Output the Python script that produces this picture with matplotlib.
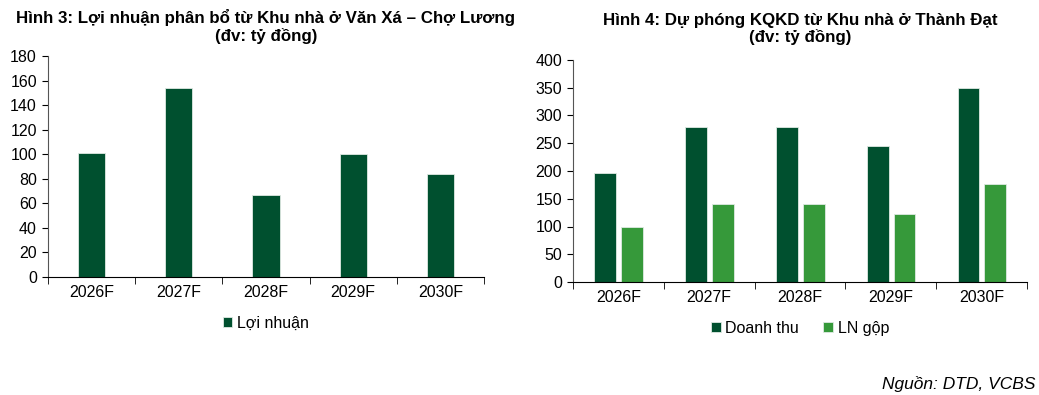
import numpy as np
import matplotlib.pyplot as plt

plt.rcParams['font.family'] = ['Liberation Sans', 'DejaVu Sans']

years = ['2026F', '2027F', '2028F', '2029F', '2030F']
loi_nhuan = [101, 154, 67, 100, 84]
doanh_thu = [197, 280, 280, 245, 350]
ln_gop = [100, 141, 141, 123, 177]

dark = '#00502f'
light = '#36993a'

W, H = 1039, 395
fig = plt.figure(figsize=(W / 100, H / 100), dpi=100)

def style_axes(ax, ymax, step):
    for s in ['top', 'right']:
        ax.spines[s].set_visible(False)
    ax.spines['left'].set_color('#555555')
    ax.spines['bottom'].set_color('black')
    ax.set_ylim(0, ymax)
    ax.set_yticks(np.arange(0, ymax + 1, step))
    ax.set_xlim(-0.5, len(years) - 0.5)
    ax.set_xticks(range(len(years)))
    ax.set_xticklabels(years)
    ax.set_xticks(np.arange(-0.5, len(years)), minor=True)
    ax.tick_params(axis='x', which='major', length=0, pad=6, labelsize=11.5)
    ax.tick_params(axis='x', which='minor', length=5, direction='out')
    ax.tick_params(axis='y', length=4, direction='out', labelsize=11.5, pad=4)

# Hình 3
ax1 = fig.add_axes([48 / W, (H - 277) / H, 436 / W, 221 / H])
x = np.arange(len(years))
ax1.bar(x, loi_nhuan, width=0.31, color=dark, edgecolor='#dfe9e3', linewidth=0.6, label='Lợi nhuận')
style_axes(ax1, 180, 20)
ax1.set_title('Hình 3: Lợi nhuận phân bổ từ Khu nhà ở Văn Xá – Chợ Lương\n(đv: tỷ đồng)',
              fontsize=12.2, fontweight='bold', pad=11, linespacing=1.1)
ax1.legend(loc='upper center', bbox_to_anchor=(0.5, -0.11), frameon=False, fontsize=11.5,
           handlelength=0.6, handleheight=0.6, handletextpad=0.3)

# Hình 4
ax2 = fig.add_axes([573 / W, (H - 282) / H, 454 / W, 222 / H])
ax2.bar(x - 0.145, doanh_thu, width=0.24, color=dark, edgecolor='#dfe9e3', linewidth=0.6, label='Doanh thu')
ax2.bar(x + 0.15, ln_gop, width=0.24, color=light, edgecolor='#dfe9e3', linewidth=0.6, label='LN gộp')
style_axes(ax2, 400, 50)
ax2.set_title('Hình 4: Dự phóng KQKD từ Khu nhà ở Thành Đạt\n(đv: tỷ đồng)',
              fontsize=12.2, fontweight='bold', pad=13, linespacing=1.1)
ax2.legend(loc='upper center', bbox_to_anchor=(0.5, -0.11), frameon=False, fontsize=11.5, ncol=2,
           handlelength=0.6, handleheight=0.6, handletextpad=0.3, columnspacing=1.5)

fig.text(1036 / W, 1 - 384 / H, 'Nguồn: DTD, VCBS', ha='right', va='center',
         fontsize=12.5, style='italic')

fig.savefig('out.png', dpi=100)
